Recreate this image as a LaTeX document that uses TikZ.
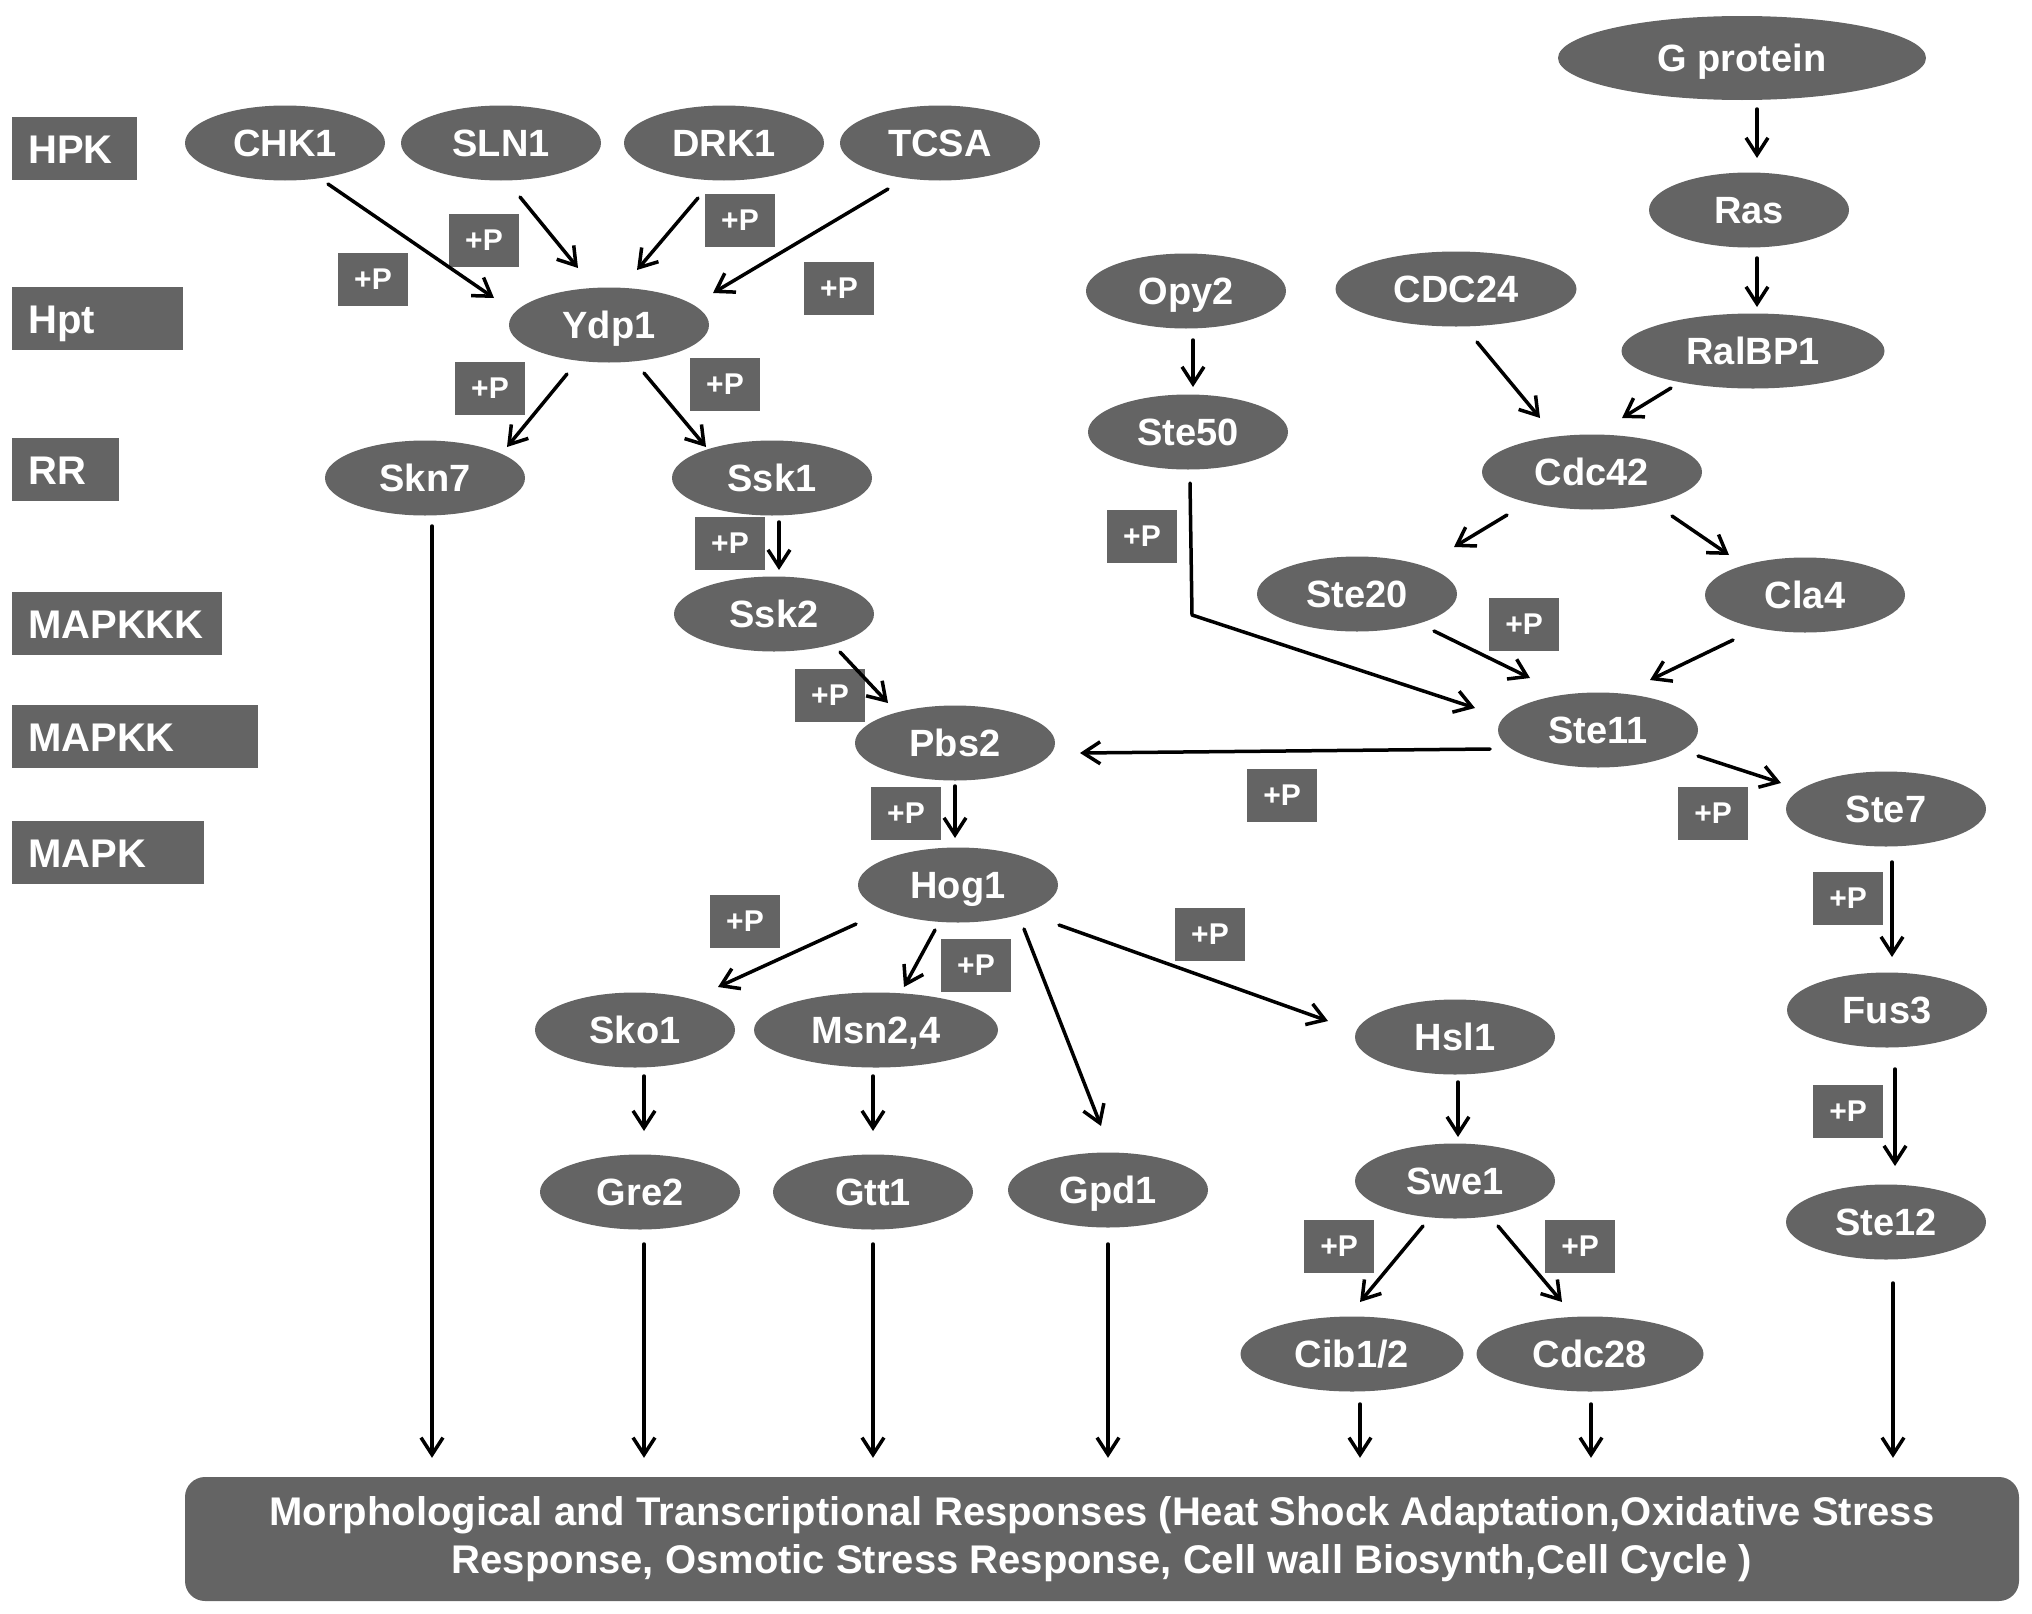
\documentclass[tikz,border=0pt]{standalone}
\usepackage{fontspec}
\setmainfont{Liberation Sans}
\usetikzlibrary{arrows.meta,shapes.geometric}
\definecolor{ng}{RGB}{100,100,100}
\begin{document}
\begin{tikzpicture}[x=1pt,y=-1pt,
  el/.style={ellipse, fill=ng, text=white, minimum width=200pt, minimum height=75pt, inner sep=0pt,
    text height=27pt, text depth=0pt, font=\fontsize{38}{40}\selectfont\bfseries},
  lab/.style={rectangle, fill=ng, text=white, anchor=north west, inner xsep=16pt, inner ysep=0pt,
    minimum height=63pt, align=left, text height=29pt, text depth=0pt, font=\fontsize{40}{44}\selectfont\bfseries},
  pbox/.style={rectangle, fill=ng, text=white, minimum width=70pt, minimum height=53pt, inner sep=0pt,
    font=\fontsize{30}{30}\selectfont\bfseries},
  arr/.style={-{Straight Barb[length=17pt,width=22pt,line width=3.5pt]}, line width=3.5pt, line cap=round}
]
\useasboundingbox (0,0) rectangle (2032,1614);
% level labels
\node[lab, text width=93pt] (hpk) at (12,117) {HPK};
\node[lab, text width=139pt] (hpt) at (12,287) {Hpt};
\node[lab, text width=75pt] (rr) at (12,438) {RR};
\node[lab, text width=178pt] (mkkk) at (12,592) {MAPKKK};
\node[lab, text width=214pt] (mkk) at (12,705) {MAPKK};
\node[lab, text width=160pt] (mk) at (12,821) {MAPK};
% nodes
\node[el] (chk1) at (285,143) {CHK1};
\node[el] (sln1) at (501,143) {SLN1};
\node[el] (drk1) at (724,143) {DRK1};
\node[el] (tcsa) at (940,143) {TCSA};
\node[el, minimum width=368pt, minimum height=84pt] (gp) at (1742,58) {G protein};
\node[el] (ras) at (1749,210) {Ras};
\node[el] (opy2) at (1186,291) {Opy2};
\node[el, minimum width=241pt] (cdc24) at (1456,289) {CDC24};
\node[el, minimum width=263pt] (ralbp1) at (1753,351) {RalBP1};
\node[el] (ste50) at (1188,432) {Ste50};
\node[el, minimum width=220pt] (cdc42) at (1592,472) {Cdc42};
\node[el] (ydp1) at (609,325) {Ydp1};
\node[el] (skn7) at (425,478) {Skn7};
\node[el] (ssk1) at (772,478) {Ssk1};
\node[el] (ssk2) at (774,614) {Ssk2};
\node[el] (pbs2) at (955,743) {Pbs2};
\node[el] (hog1) at (958,885) {Hog1};
\node[el] (ste11) at (1598,730) {Ste11};
\node[el] (ste20) at (1357,594) {Ste20};
\node[el] (cla4) at (1805,595) {Cla4};
\node[el] (ste7) at (1886,809) {Ste7};
\node[el] (fus3) at (1887,1010) {Fus3};
\node[el] (ste12) at (1886,1222) {Ste12};
\node[el] (sko1) at (635,1030) {Sko1};
\node[el, minimum width=244pt] (msn) at (876,1030) {Msn2,4};
\node[el] (hsl1) at (1455,1037) {Hsl1};
\node[el] (gre2) at (640,1192) {Gre2};
\node[el] (gtt1) at (873,1192) {Gtt1};
\node[el] (gpd1) at (1108,1190) {Gpd1};
\node[el] (swe1) at (1455,1181) {Swe1};
\node[el, minimum width=223pt] (cib) at (1352,1354) {Cib1/2};
\node[el, minimum width=227pt] (cdc28) at (1590,1354) {Cdc28};
% response box
\node[rectangle, rounded corners=20pt, fill=ng, text=white, minimum width=1834pt, minimum height=124pt,
  align=center, inner sep=0pt, font=\fontsize{40}{48}\selectfont\bfseries] (resp) at (1102,1539)
  {Morphological and Transcriptional Responses (Heat Shock Adaptation,Oxidative Stress\\
   Response, Osmotic Stress Response, Cell wall Biosynth,Cell Cycle )};
% +P boxes
\node[pbox] (p1) at (373,279) {+P};
\node[pbox] (p2) at (484,240) {+P};
\node[pbox] (p3) at (740,220) {+P};
\node[pbox] (p4) at (839,288) {+P};
\node[pbox] (p5) at (490,388) {+P};
\node[pbox] (p6) at (725,384) {+P};
\node[pbox] (p7) at (730,543) {+P};
\node[pbox] (p8) at (830,695) {+P};
\node[pbox] (p9) at (906,813) {+P};
\node[pbox] (p10) at (1282,795) {+P};
\node[pbox] (p11) at (745,921) {+P};
\node[pbox] (p12) at (976,965) {+P};
\node[pbox] (p13) at (1210,934) {+P};
\node[pbox] (p14) at (1142,536) {+P};
\node[pbox] (p15) at (1524,624) {+P};
\node[pbox] (p16) at (1713,813) {+P};
\node[pbox] (p17) at (1848,898) {+P};
\node[pbox] (p18) at (1848,1111) {+P};
\node[pbox] (p19) at (1339,1246) {+P};
\node[pbox] (p20) at (1580,1246) {+P};
% arrows
\draw[arr] ([shift={(43,41)}]chk1.center) -- ([shift={(-115,-27)}]ydp1.center);
\draw[arr] ([shift={(19,54)}]sln1.center) -- ([shift={(-31,-57)}]ydp1.center);
\draw[arr] ([shift={(-26,55)}]drk1.center) -- ([shift={(28,-55)}]ydp1.center);
\draw[arr] ([shift={(-52,46)}]tcsa.center) -- ([shift={(104,-32)}]ydp1.center);
\draw[arr] ([shift={(-42,49)}]ydp1.center) -- ([shift={(82,-31)}]skn7.center);
\draw[arr] ([shift={(35,48)}]ydp1.center) -- ([shift={(-66,-31)}]ssk1.center);
\draw[arr] ([shift={(7,44)}]ssk1.center) -- ([shift={(5,-44)}]ssk2.center);
\draw[arr] ([shift={(66,38)}]ssk2.center) -- ([shift={(-67,-40)}]pbs2.center);
\draw[arr] ([shift={(0,43)}]pbs2.center) -- ([shift={(-3,-47)}]hog1.center);
\draw[arr] ([shift={(-108,19)}]ste11.center) -- ([shift={(125,10)}]pbs2.center);
\draw[arr] ([shift={(-102,39)}]hog1.center) -- ([shift={(83,-43)}]sko1.center);
\draw[arr] ([shift={(-23,45)}]hog1.center) -- ([shift={(28,-43)}]msn.center);
\draw[arr] ([shift={(66,44)}]hog1.center) -- ([shift={(-7,-64)}]gpd1.center);
\draw[arr] ([shift={(101,40)}]hog1.center) -- ([shift={(-127,-16)}]hsl1.center);
\draw[arr] ([shift={(9,46)}]sko1.center) -- ([shift={(4,-61)}]gre2.center);
\draw[arr] ([shift={(-3,46)}]msn.center) -- ([shift={(0,-61)}]gtt1.center);
\draw[arr] ([shift={(3,45)}]hsl1.center) -- ([shift={(3,-44)}]swe1.center);
\draw[arr] ([shift={(-32,45)}]swe1.center) -- ([shift={(8,-52)}]cib.center);
\draw[arr] ([shift={(43,45)}]swe1.center) -- ([shift={(-28,-52)}]cdc28.center);
\draw[arr] ([shift={(7,48)}]skn7.center) -- ([shift={(-670,-19)}]resp.north);
\draw[arr] ([shift={(4,52)}]gre2.center) -- ([shift={(-458,-19)}]resp.north);
\draw[arr] ([shift={(0,52)}]gtt1.center) -- ([shift={(-229,-19)}]resp.north);
\draw[arr] ([shift={(0,54)}]gpd1.center) -- ([shift={(6,-19)}]resp.north);
\draw[arr] ([shift={(8,50)}]cib.center) -- ([shift={(258,-19)}]resp.north);
\draw[arr] ([shift={(1,50)}]cdc28.center) -- ([shift={(489,-19)}]resp.north);
\draw[arr] ([shift={(7,61)}]ste12.center) -- ([shift={(791,-19)}]resp.north);
\draw[arr] ([shift={(15,51)}]gp.center) -- ([shift={(8,-52)}]ras.center);
\draw[arr] ([shift={(8,48)}]ras.center) -- ([shift={(4,-44)}]ralbp1.center);
\draw[arr] ([shift={(7,49)}]opy2.center) -- ([shift={(5,-45)}]ste50.center);
\draw[arr] ([shift={(21,53)}]cdc24.center) -- ([shift={(-52,-54)}]cdc42.center);
\draw[arr] ([shift={(-82,37)}]ralbp1.center) -- ([shift={(30,-54)}]cdc42.center);
\coordinate (bend) at (1192,615);
\draw[arr, line join=round] ([shift={(2,51)}]ste50.center) -- (bend) -- ([shift={(-123,-22)}]ste11.center);
\draw[arr] ([shift={(-85,43)}]cdc42.center) -- ([shift={(97,-47)}]ste20.center);
\draw[arr] ([shift={(80,44)}]cdc42.center) -- ([shift={(-76,-40)}]cla4.center);
\draw[arr] ([shift={(77,37)}]ste20.center) -- ([shift={(-68,-52)}]ste11.center);
\draw[arr] ([shift={(-72,45)}]cla4.center) -- ([shift={(52,-50)}]ste11.center);
\draw[arr] ([shift={(100,26)}]ste11.center) -- ([shift={(-105,-26)}]ste7.center);
\draw[arr] ([shift={(6,53)}]ste7.center) -- ([shift={(5,-53)}]fus3.center);
\draw[arr] ([shift={(8,59)}]fus3.center) -- ([shift={(9,-56)}]ste12.center);
\end{tikzpicture}
\end{document}
